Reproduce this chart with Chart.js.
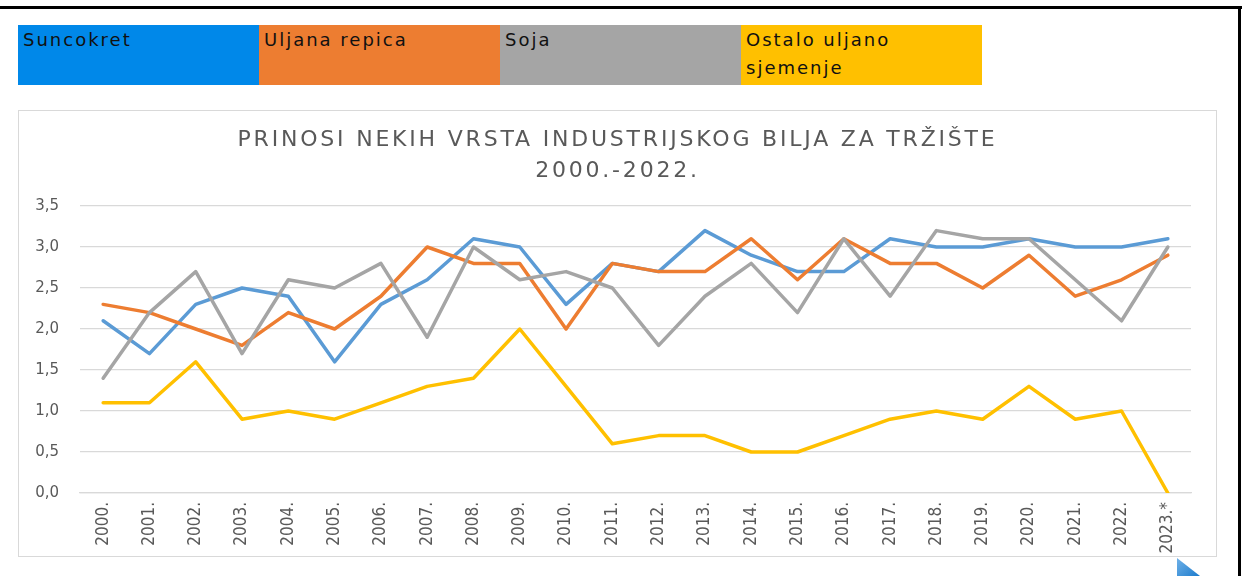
<!DOCTYPE html>
<html>
<head>
    <title>Prinosi nekih vrsta industrijskog bilja za tržište 2000.-2022.</title>
    <script src="https://cdn.jsdelivr.net/npm/chart.js"></script>
    <style>
        body {margin: 0; width: 1242px; height: 576px; background: #fff; position: relative; overflow: hidden;}
        #frameTop {position: absolute; left: 0; top: 6px; width: 1242px; height: 3px; background: #000;}
        #frameRight {position: absolute; left: 1238px; top: 6px; width: 3px; height: 570px; background: #000;}
        #legend {position: absolute; left: 18px; top: 25px; height: 60px; display: flex;}
        #legend div {width: 241px; height: 60px; box-sizing: border-box; padding: 1px 0 0 5px;
            font: 18px/28px "DejaVu Sans", sans-serif; letter-spacing: 2px; color: #111;}
        #chartBox {position: absolute; left: 18px; top: 110px; width: 1197px; height: 445px; border: 1px solid #d9d9d9;}
        #charttitle {position: absolute; left: 0; top: 12px; width: 1197px; text-align: center; margin: 0;
            font: 22px/31px "DejaVu Sans", sans-serif; letter-spacing: 2.8px; color: #595959;}
        #corner {position: absolute; left: 1177px; top: 558px; width: 23px; height: 18px;
            background: linear-gradient(135deg, #6fb1e8, #1c7bcc); clip-path: polygon(0 0, 100% 100%, 0 100%);}
    </style>
</head>
<body>
    <div id="frameTop"></div>
    <div id="frameRight"></div>
    <div id="legend"></div>
    <div id="chartBox">
        <canvas id="myChart" width="1197" height="445"></canvas>
        <p id="charttitle">PRINOSI NEKIH VRSTA INDUSTRIJSKOG BILJA ZA TRŽIŠTE<br>2000.-2022.</p>
    </div>
    <div id="corner"></div>
    <script>
        var years = ['2000.', '2001.', '2002.', '2003.', '2004.', '2005.', '2006.', '2007.', '2008.', '2009.', '2010.', '2011.',
                     '2012.', '2013.', '2014.', '2015.', '2016.', '2017.', '2018.', '2019.', '2020.', '2021.', '2022.', '2023.*'];

        var seriesNames = ['Suncokret', 'Uljana repica', 'Soja', 'Ostalo uljano sjemenje'];

        var suncokret = [2.1, 1.7, 2.3, 2.5, 2.4, 1.6, 2.3, 2.6, 3.1, 3.0, 2.3, 2.8, 2.7, 3.2, 2.9, 2.7, 2.7, 3.1, 3.0, 3.0, 3.1, 3.0, 3.0, 3.1];
        var uljanaRepica = [2.3, 2.2, 2.0, 1.8, 2.2, 2.0, 2.4, 3.0, 2.8, 2.8, 2.0, 2.8, 2.7, 2.7, 3.1, 2.6, 3.1, 2.8, 2.8, 2.5, 2.9, 2.4, 2.6, 2.9];
        var soja = [1.4, 2.2, 2.7, 1.7, 2.6, 2.5, 2.8, 1.9, 3.0, 2.6, 2.7, 2.5, 1.8, 2.4, 2.8, 2.2, 3.1, 2.4, 3.2, 3.1, 3.1, 2.6, 2.1, 3.0];
        var ostalo = [1.1, 1.1, 1.6, 0.9, 1.0, 0.9, 1.1, 1.3, 1.4, 2.0, 1.3, 0.6, 0.7, 0.7, 0.5, 0.5, 0.7, 0.9, 1.0, 0.9, 1.3, 0.9, 1.0, 0.0];

        var yTickLabels = ['0,0', '0,5', '1,0', '1,5', '2,0', '2,5', '3,0', '3,5'];

        var lineColors = ['#5b9bd5', '#ed7d31', '#a5a5a5', '#ffc000'];
        var legendColors = ['#0088e9', '#ed7d31', '#a5a5a5', '#ffc000'];

        // legend strip above the chart
        var legend = document.getElementById('legend');
        seriesNames.forEach(function(name, i) {
            var cell = document.createElement('div');
            cell.style.background = legendColors[i];
            cell.textContent = name;
            legend.appendChild(cell);
        });

        var values = [suncokret, uljanaRepica, soja, ostalo];
        var datasets = values.map(function(v, i) {
            return {
                label: seriesNames[i],
                data: v,
                borderColor: lineColors[i],
                backgroundColor: lineColors[i],
                borderWidth: 3.5,
                borderJoinStyle: 'round',
                borderCapStyle: 'round',
                pointRadius: 0,
                tension: 0,
                order: values.length - i   // later series drawn on top
            };
        });

        var tickFont = {family: '"DejaVu Sans", sans-serif', size: 15};
        var yearFont = {family: '"Liberation Sans Narrow", "DejaVu Sans Condensed", "Liberation Sans", sans-serif', size: 17};

        var ctx = document.getElementById('myChart').getContext('2d');
        new Chart(ctx, {
            type: 'line',
            data: {
                labels: years,
                datasets: datasets
            },
            options: {
                responsive: false,
                animation: false,
                layout: {padding: {top: 95, right: 25, left: 0, bottom: 0}},
                plugins: {
                    legend: {display: false},
                    tooltip: {enabled: false}
                },
                scales: {
                    y: {
                        min: 0,
                        max: 3.5,
                        ticks: {
                            stepSize: 0.5,
                            padding: 21,
                            color: '#595959',
                            font: tickFont,
                            callback: function(value, index) { return yTickLabels[index]; }
                        },
                        grid: {color: '#d9d9d9', lineWidth: 1.3, drawTicks: false},
                        border: {display: false},
                        afterFit: function(scale) { scale.width = 61; }
                    },
                    x: {
                        offset: true,
                        ticks: {
                            minRotation: 90,
                            maxRotation: 90,
                            autoSkip: false,
                            padding: 9,
                            color: '#595959',
                            font: yearFont
                        },
                        grid: {display: false, drawTicks: false},
                        border: {display: true, color: '#d9d9d9', width: 1.3},
                        afterFit: function(scale) { scale.height = 63; }
                    }
                }
            }
        });
    </script>
</body>
</html>
